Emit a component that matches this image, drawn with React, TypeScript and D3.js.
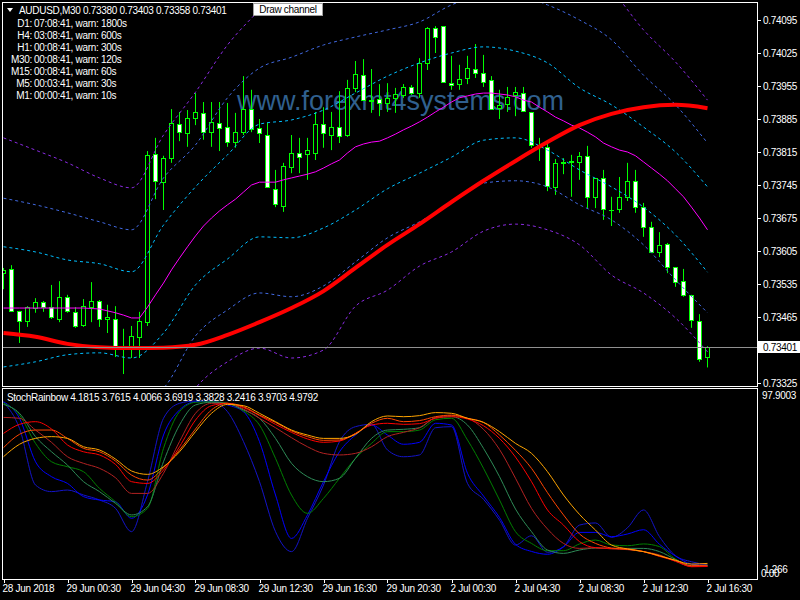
import React from "react";
import * as d3 from "d3";

// AUDUSD M30 candles (bar 0 = 28 Jun 20:30, bar 88 = 2 Jul 16:30)
const opens = [
  0.73558, 0.73567, 0.73478, 0.73457, 0.73484, 0.73497, 0.73486, 0.73461, 0.73508, 0.73476,
  0.73448, 0.73486, 0.73499, 0.73461, 0.73461, 0.73397, 0.73397, 0.73423, 0.73454, 0.73811,
  0.73751, 0.73802, 0.73874, 0.73855, 0.73887, 0.73898, 0.73857, 0.73877, 0.73868, 0.73836,
  0.73857, 0.73906, 0.73866, 0.73851, 0.73737, 0.737, 0.73783, 0.73813, 0.73811, 0.73813,
  0.73874, 0.73851, 0.73868, 0.73851, 0.73951, 0.73978, 0.73925, 0.73927, 0.73919, 0.7393,
  0.73936, 0.73953, 0.7394, 0.74004, 0.74078, 0.74082, 0.73961, 0.73959, 0.73972, 0.73991,
  0.73983, 0.73968, 0.73908, 0.73917, 0.73936, 0.7394, 0.739, 0.73828, 0.73826, 0.73741,
  0.73792, 0.73794, 0.73794, 0.73807, 0.7372, 0.7376, 0.73692, 0.73694, 0.7372, 0.73754,
  0.73698, 0.73656, 0.73603, 0.7362, 0.73571, 0.73541, 0.73512, 0.73457, 0.7338,
];
const highs = [
  0.73569, 0.73575, 0.73478, 0.73488, 0.73505, 0.73499, 0.73533, 0.73541, 0.73512, 0.73486,
  0.73503, 0.73539, 0.73501, 0.73491, 0.73488, 0.7344, 0.73446, 0.73476, 0.73817, 0.73845,
  0.73807, 0.73906, 0.739, 0.73904, 0.7394, 0.73921, 0.73921, 0.73921, 0.73919, 0.73898,
  0.73976, 0.73947, 0.73885, 0.73877, 0.73777, 0.73792, 0.73851, 0.73845, 0.73845, 0.739,
  0.7391, 0.739, 0.73944, 0.73968, 0.74008, 0.74012, 0.73991, 0.73959, 0.73961, 0.73951,
  0.73959, 0.73957, 0.74014, 0.7408, 0.74082, 0.74082, 0.74019, 0.74, 0.74019, 0.74044,
  0.74021, 0.73976, 0.73947, 0.73953, 0.73953, 0.73953, 0.739, 0.73845, 0.73834, 0.738,
  0.73802, 0.73809, 0.73815, 0.73828, 0.7376, 0.73777, 0.7372, 0.73762, 0.73792, 0.73777,
  0.73707, 0.73667, 0.73645, 0.73622, 0.73571, 0.73567, 0.73512, 0.73471, 0.73403,
];
const lows = [
  0.73524, 0.73476, 0.7341, 0.73444, 0.73474, 0.73476, 0.73461, 0.73454, 0.73474, 0.73442,
  0.73444, 0.73454, 0.73444, 0.73431, 0.7338, 0.73344, 0.73378, 0.73378, 0.73446, 0.73715,
  0.73692, 0.73792, 0.73838, 0.73826, 0.73872, 0.73841, 0.73826, 0.73817, 0.73826, 0.73824,
  0.73851, 0.73857, 0.73834, 0.73741, 0.73698, 0.73688, 0.7377, 0.7377, 0.73756, 0.73798,
  0.73824, 0.73819, 0.73834, 0.73847, 0.73942, 0.73925, 0.73898, 0.73891, 0.739, 0.73898,
  0.7393, 0.73936, 0.7393, 0.73989, 0.74025, 0.73964, 0.73947, 0.73947, 0.73959, 0.73972,
  0.73953, 0.73906, 0.73885, 0.739, 0.73891, 0.73902, 0.73824, 0.73796, 0.73732, 0.73724,
  0.73768, 0.7372, 0.73756, 0.73696, 0.73696, 0.73671, 0.73658, 0.73686, 0.73711, 0.73686,
  0.73635, 0.73601, 0.73592, 0.73558, 0.73529, 0.73508, 0.73442, 0.7337, 0.73358,
];
const closes = [
  0.73565, 0.73478, 0.73457, 0.73486, 0.73497, 0.73486, 0.73465, 0.73508, 0.73478, 0.73446,
  0.73488, 0.73499, 0.73461, 0.73465, 0.73401, 0.73403, 0.73425, 0.73457, 0.73809, 0.73754,
  0.73802, 0.73877, 0.73857, 0.73887, 0.739, 0.73857, 0.73879, 0.73866, 0.73836, 0.73857,
  0.73906, 0.73864, 0.73855, 0.73741, 0.73705, 0.73785, 0.73813, 0.73804, 0.73819, 0.73874,
  0.73855, 0.73868, 0.73849, 0.73951, 0.7398, 0.73925, 0.73923, 0.73919, 0.7393, 0.73938,
  0.73953, 0.7394, 0.74004, 0.74078, 0.74059, 0.73964, 0.73957, 0.7397, 0.73993, 0.73983,
  0.73964, 0.73906, 0.73915, 0.73932, 0.73942, 0.73902, 0.7383, 0.7383, 0.73743, 0.73792,
  0.73793, 0.73795, 0.73807, 0.7372, 0.7376, 0.73694, 0.73693, 0.7372, 0.73754, 0.73698,
  0.73656, 0.73603, 0.73618, 0.73571, 0.73539, 0.73512, 0.73459, 0.73376, 0.73401,
];

// magenta middle line, one value per bar
const midLine = [
  0.73484, 0.73484, 0.73484, 0.73484, 0.73484, 0.73484, 0.73484, 0.73484, 0.73484, 0.73484,
  0.73484, 0.73483, 0.73482, 0.73478, 0.73474, 0.73469, 0.73463, 0.73463, 0.73486, 0.73512,
  0.73537, 0.73565, 0.7359, 0.73614, 0.73637, 0.73658, 0.73675, 0.7369, 0.73703, 0.73715,
  0.7373, 0.73745, 0.73751, 0.73751, 0.73751, 0.73756, 0.7376, 0.73764, 0.73768, 0.73773,
  0.73781, 0.7379, 0.73798, 0.73813, 0.73826, 0.73832, 0.73836, 0.73838, 0.73845, 0.73853,
  0.73862, 0.7387, 0.73879, 0.73889, 0.739, 0.7391, 0.73921, 0.7393, 0.73934, 0.73938,
  0.7394, 0.7394, 0.73938, 0.73936, 0.73932, 0.73925, 0.73921, 0.7391, 0.739, 0.73889,
  0.73881, 0.73872, 0.73866, 0.73857, 0.73847, 0.73834, 0.73826, 0.73819, 0.73815, 0.73807,
  0.73794, 0.73781, 0.73768, 0.73754, 0.73737, 0.7372, 0.73698, 0.73675, 0.7365,
];

// the following series are read every 4 bars (bar 0, 4, 8 ... 88)
const redMa = [
  0.73431, 0.73423, 0.73408, 0.73401, 0.73399, 0.734, 0.73406, 0.73427, 0.73454, 0.73484,
  0.7352, 0.73569, 0.73618, 0.73662, 0.73709, 0.73754, 0.73796, 0.73836, 0.73872, 0.73896,
  0.7391, 0.73915, 0.73908,
];
const cyanUpper = [
  0.73614, 0.73603, 0.73586, 0.73578, 0.73561, 0.7366, 0.73741, 0.73809, 0.73874, 0.73883,
  0.73904, 0.7394, 0.73976, 0.74004, 0.74025, 0.74038, 0.74029, 0.74004, 0.73951, 0.73915,
  0.73868, 0.73815, 0.73741,
];
const cyanLower = [
  0.73359, 0.7337, 0.73385, 0.73389, 0.73378, 0.73431, 0.73533, 0.73588, 0.73635, 0.73633,
  0.73654, 0.73692, 0.73737, 0.7377, 0.73804, 0.7384, 0.73845, 0.73819, 0.73777, 0.73741,
  0.73698, 0.73639, 0.7356,
];
const blueUpper = [
  0.73717, 0.73703, 0.73686, 0.73667, 0.7365, 0.7376, 0.7383, 0.7393, 0.73993, 0.74016,
  0.74042, 0.74059, 0.74074, 0.74091, 0.74127, 0.74148, 0.74148, 0.74127, 0.74095, 0.74053,
  0.73978, 0.73915, 0.73834,
];
const blueLower = [
  0.73268, 0.73279, 0.73289, 0.73293, 0.73279, 0.73314, 0.73425, 0.7348, 0.73516, 0.73508,
  0.73531, 0.73582, 0.73633, 0.73667, 0.73707, 0.73749, 0.73754, 0.73741, 0.73703, 0.73671,
  0.73618, 0.73544, 0.73474,
];
const purpleUpper = [
  0.73845, 0.73819, 0.73792, 0.7376, 0.73739, 0.73851, 0.73942, 0.74042, 0.74116, 0.7418,
  0.74201, 0.74222, 0.74233, 0.74244, 0.74265, 0.74286, 0.74286, 0.74265, 0.74222, 0.74159,
  0.74074, 0.74006, 0.73925,
];
const purpleLower = [
  0.73141, 0.73151, 0.73172, 0.73183, 0.73162, 0.73204, 0.73314, 0.7337, 0.73399, 0.73378,
  0.73395, 0.73488, 0.73522, 0.73573, 0.73603, 0.73647, 0.73662, 0.7365, 0.73618, 0.73554,
  0.73516, 0.73463, 0.73391,
];

// StochRainbow lines, read every 2 bars, fastest first
const stochA = [95.5, 80.9, 49.0, 45.3, 46.2, 43.4, 40.6, 35.9, 22.8, 50.9, 86.5, 94.9, 96.2, 95.8, 90.2, 73.4, 50.9, 22.8, 11.6, 30.3, 49.0, 73.4, 81.8, 83.1, 68.7, 64.9, 65.9, 81.2, 81.8, 49.9, 41.0, 29.3, 15.3, 20.5, 11.2, 14.4, 26.5, 27.7, 19.6, 25.0, 35.0, 20.0, 9.3, 5.9, 4.1815];
const stochB = [95.8, 86.5, 62.1, 53.7, 49.9, 42.5, 40.6, 39.6, 30.3, 43.4, 77.1, 91.2, 95.8, 96.2, 94.0, 90.2, 73.4, 43.4, 19.0, 32.2, 50.9, 67.7, 77.1, 82.7, 77.1, 71.9, 73.0, 83.7, 82.7, 55.6, 42.8, 30.8, 15.7, 11.7, 10.1, 14.2, 22.4, 22.4, 20.0, 21.5, 23.9, 15.7, 9.1, 4.6, 3.7615];
const stochC = [95.1, 88.3, 72.4, 62.1, 59.3, 56.5, 47.1, 39.6, 31.2, 35.9, 69.6, 90.2, 95.5, 95.8, 94.9, 90.6, 82.7, 64.0, 43.4, 33.1, 41.5, 52.8, 64.0, 72.4, 79.0, 79.0, 79.9, 85.7, 86.5, 74.3, 58.4, 40.6, 22.8, 16.2, 12.1, 12.1, 15.9, 18.1, 15.3, 14.9, 15.9, 14.4, 7.4, 3.5, 4.0066];
const stochD = [94.3, 89.3, 76.2, 67.7, 60.2, 50.9, 45.3, 38.7, 32.2, 36.8, 62.1, 82.7, 94.0, 95.5, 94.9, 91.2, 86.5, 75.2, 61.2, 53.7, 50.9, 52.8, 64.0, 75.2, 79.9, 80.3, 81.2, 86.8, 87.4, 82.7, 69.6, 53.7, 35.5, 22.8, 12.5, 10.6, 12.5, 13.6, 13.4, 13.4, 13.4, 11.6, 7.2, 3.5, 3.6919];
const stochE = [87.0, 86.5, 79.9, 73.0, 64.9, 61.2, 58.4, 53.1, 44.3, 44.3, 55.6, 73.4, 89.3, 94.9, 94.9, 91.7, 86.5, 81.2, 75.6, 70.5, 66.8, 65.9, 66.8, 70.5, 76.2, 78.6, 81.2, 86.8, 88.0, 86.5, 80.3, 69.0, 52.8, 35.9, 24.3, 16.2, 13.4, 13.8, 13.1, 12.7, 11.6, 9.7, 6.1, 3.3, 3.3828];
const stochF = [78.0, 83.1, 84.6, 80.5, 71.5, 67.7, 65.9, 60.6, 50.9, 49.9, 57.4, 70.5, 85.5, 93.6, 94.9, 92.5, 88.0, 83.1, 78.6, 74.9, 73.0, 73.7, 78.0, 82.7, 83.7, 83.1, 83.5, 86.5, 87.4, 86.1, 82.3, 75.2, 64.7, 50.9, 35.0, 26.5, 17.2, 13.8, 13.4, 13.1, 11.6, 8.9, 6.3, 3.1, 3.2416];
const stochG = [70.0, 77.5, 79.9, 79.9, 75.2, 69.6, 67.7, 62.5, 54.6, 51.8, 58.7, 68.7, 80.5, 91.2, 94.9, 93.0, 88.3, 84.2, 79.4, 76.2, 74.1, 74.3, 78.0, 83.7, 86.5, 84.6, 85.2, 87.4, 88.3, 86.5, 84.2, 77.1, 68.5, 58.4, 44.7, 32.2, 21.5, 16.2, 13.6, 12.9, 11.6, 9.1, 6.7, 3.7, 3.9703];
const stochH = [64.9, 71.9, 75.2, 76.2, 75.2, 70.5, 68.7, 63.6, 56.9, 55.0, 59.3, 67.7, 79.0, 89.3, 94.3, 93.6, 89.3, 84.6, 79.9, 77.1, 75.2, 75.2, 77.5, 84.6, 87.8, 87.4, 88.0, 89.7, 89.3, 86.5, 84.2, 79.0, 72.4, 66.8, 56.5, 43.4, 32.5, 23.7, 15.3, 13.1, 11.6, 9.3, 6.7, 4.6, 4.9792];
const stochColors = ["#1414c8", "#0000ff", "#008000", "#2e8b57", "#b22222", "#ff0000", "#ff4500", "#ffa500"];

const priceTicks = [0.74095, 0.74025, 0.73955, 0.73885, 0.73815, 0.73745, 0.73675, 0.73605, 0.73535, 0.73465, 0.73325];
const timeTickBars = [0, 8, 16, 24, 32, 40, 48, 56, 64, 72, 80, 88];
const timeTickLabels = [
  "28 Jun 2018", "29 Jun 00:30", "29 Jun 04:30", "29 Jun 08:30", "29 Jun 12:30", "29 Jun 16:30",
  "29 Jun 20:30", "2 Jul 00:30", "2 Jul 04:30", "2 Jul 08:30", "2 Jul 12:30", "2 Jul 16:30",
];
const timerNames = ["D1", "H4", "H1", "M30", "M15", "M5", "M1"];
const timerLeft = ["07:08:41", "03:08:41", "00:08:41", "00:08:41", "00:08:41", "00:03:41", "00:00:41"];
const timerWarn = ["1800s", "600s", "300s", "120s", "60s", "30s", "10s"];

const font = "'Liberation Sans', Arial, sans-serif";
const txt = { fontFamily: font, fontSize: 10, letterSpacing: -0.3 } as const;

export default function App() {
  const left = 2, right = 757, top = 2, mainBottom = 386, subTop = 388, subBottom = 579;
  const last = opens.length - 1;

  const x = d3.scaleLinear().domain([0, last]).range([3.5, 707.5]);
  const y = d3.scaleLinear().domain([0.73325, 0.74095]).range([383, 20]);
  const ys = d3.scaleLinear().domain([1.266, 97.9003]).range([570, 398]);

  const every4 = d3.line<number>().x((_, i) => x(i * 4)).y((d) => y(d)).curve(d3.curveMonotoneX);
  const perBar = d3.line<number>().x((_, i) => x(i)).y((d) => y(d));
  const stochLine = d3.line<number>().x((_, i) => x(i * 2)).y((d) => ys(d)).curve(d3.curveMonotoneX);

  const bands = [
    { d: purpleUpper, c: "#8a2be2" }, { d: purpleLower, c: "#8a2be2" },
    { d: blueUpper, c: "#4169e1" }, { d: blueLower, c: "#4169e1" },
    { d: cyanUpper, c: "#00bfff" }, { d: cyanLower, c: "#00bfff" },
  ];
  const stochs = [stochA, stochB, stochC, stochD, stochE, stochF, stochG, stochH];
  const bid = closes[last];
  const fmt = d3.format(".5f");
  const bidY = Math.round(y(bid)) + 0.5;

  return (
    <div style={{ position: "fixed", left: 0, top: 0 }}>
      <svg width={800} height={600} style={{ display: "block", background: "#000" }}>
        <defs>
          <clipPath id="mainClip"><rect x={left} y={top} width={right - left} height={mainBottom - top} /></clipPath>
          <clipPath id="subClip"><rect x={left} y={subTop} width={right - left} height={subBottom - subTop} /></clipPath>
        </defs>

        {/* watermark behind everything */}
        <text x={237} y={110} fill="#30608f" style={{ fontFamily: font, fontSize: 27 }}>www.forexmt4systems.com</text>

        <g clipPath="url(#mainClip)">
          {opens.map((o, i) => {
            const c = closes[i];
            const cx = x(i);
            const yt = Math.round(y(Math.max(o, c))) + 0.5;
            const yb = Math.round(y(Math.min(o, c))) + 0.5;
            return (
              <g key={i}>
                <line x1={cx} x2={cx} y1={y(highs[i])} y2={y(lows[i])} stroke="#00ff00" />
                <rect x={cx - 2} y={yt} width={4} height={Math.max(yb - yt, 0.01)}
                  fill={c < o ? "#fff" : "#000"} stroke="#00ff00" />
              </g>
            );
          })}
          {bands.map((b, i) => (
            <path key={i} d={every4(b.d) || ""} fill="none" stroke={b.c} strokeDasharray="3 3" />
          ))}
          <path d={perBar(midLine) || ""} fill="none" stroke="#ff00ff" />
          <path d={every4(redMa) || ""} fill="none" stroke="#ff0000" strokeWidth={4} />
          <line x1={left} x2={right} y1={bidY} y2={bidY} stroke="#909090" />
        </g>

        <g clipPath="url(#subClip)">
          {stochs.map((s, i) => (
            <path key={i} d={stochLine(s) || ""} fill="none" stroke={stochColors[i]} />
          ))}
        </g>

        {/* frames */}
        <rect x={left + 0.5} y={top + 0.5} width={right - left} height={mainBottom - top} fill="none" stroke="#fff" />
        <rect x={left + 0.5} y={subTop + 0.5} width={right - left} height={subBottom - subTop} fill="none" stroke="#fff" />

        {/* price axis */}
        {priceTicks.map((p) => (
          <g key={p}>
            <line x1={right} x2={right + 4} y1={Math.round(y(p)) + 0.5} y2={Math.round(y(p)) + 0.5} stroke="#fff" />
            <text x={763} y={y(p) + 3.5} fill="#fff" style={txt}>{fmt(p)}</text>
          </g>
        ))}
        <rect x={758} y={bidY - 6.5} width={42} height={12} fill="#fff" />
        <text x={763} y={y(bid) + 3.5} fill="#000" style={txt}>{fmt(bid)}</text>

        {/* indicator axis */}
        <text x={762} y={398.5} fill="#fff" style={txt}>97.9003</text>
        <text x={761} y={577} fill="#fff" style={txt}>0.00</text>
        <text x={764} y={573} fill="#fff" style={txt}>1.266</text>

        {/* time axis */}
        {timeTickBars.map((b, i) => (
          <g key={b}>
            <line x1={Math.round(x(b)) + 0.5} x2={Math.round(x(b)) + 0.5} y1={subBottom} y2={subBottom + 4} stroke="#fff" />
            <text x={x(b) - 1} y={592} fill="#fff" style={txt}>{timeTickLabels[i]}</text>
          </g>
        ))}

        {/* header */}
        <path d="M7,8 L13,8 L10,12 Z" fill="#fff" />
        <text x={19} y={14} fill="#fff" style={txt}>
          {`AUDUSD,M30  ${fmt(opens[last])} ${fmt(highs[last])} ${fmt(lows[last])} ${fmt(closes[last])}`}
        </text>
        {timerNames.map((n, i) => (
          <g key={n}>
            <text x={32} y={27 + i * 12} fill="#fff" textAnchor="end" style={txt}>{`${n}:`}</text>
            <text x={34} y={27 + i * 12} fill="#fff" style={txt}>{`${timerLeft[i]}, warn: ${timerWarn[i]}`}</text>
          </g>
        ))}
        <rect x={253.5} y={3.5} width={69} height={12} fill="#fff" stroke="#a0a0a0" />
        <text x={288} y={13} fill="#000" textAnchor="middle" style={txt}>Draw channel</text>

        <text x={7} y={401} fill="#fff" style={txt}>
          {`StochRainbow ${stochs.map((s) => s[s.length - 1].toFixed(4)).join(" ")}`}
        </text>
      </svg>
    </div>
  );
}
